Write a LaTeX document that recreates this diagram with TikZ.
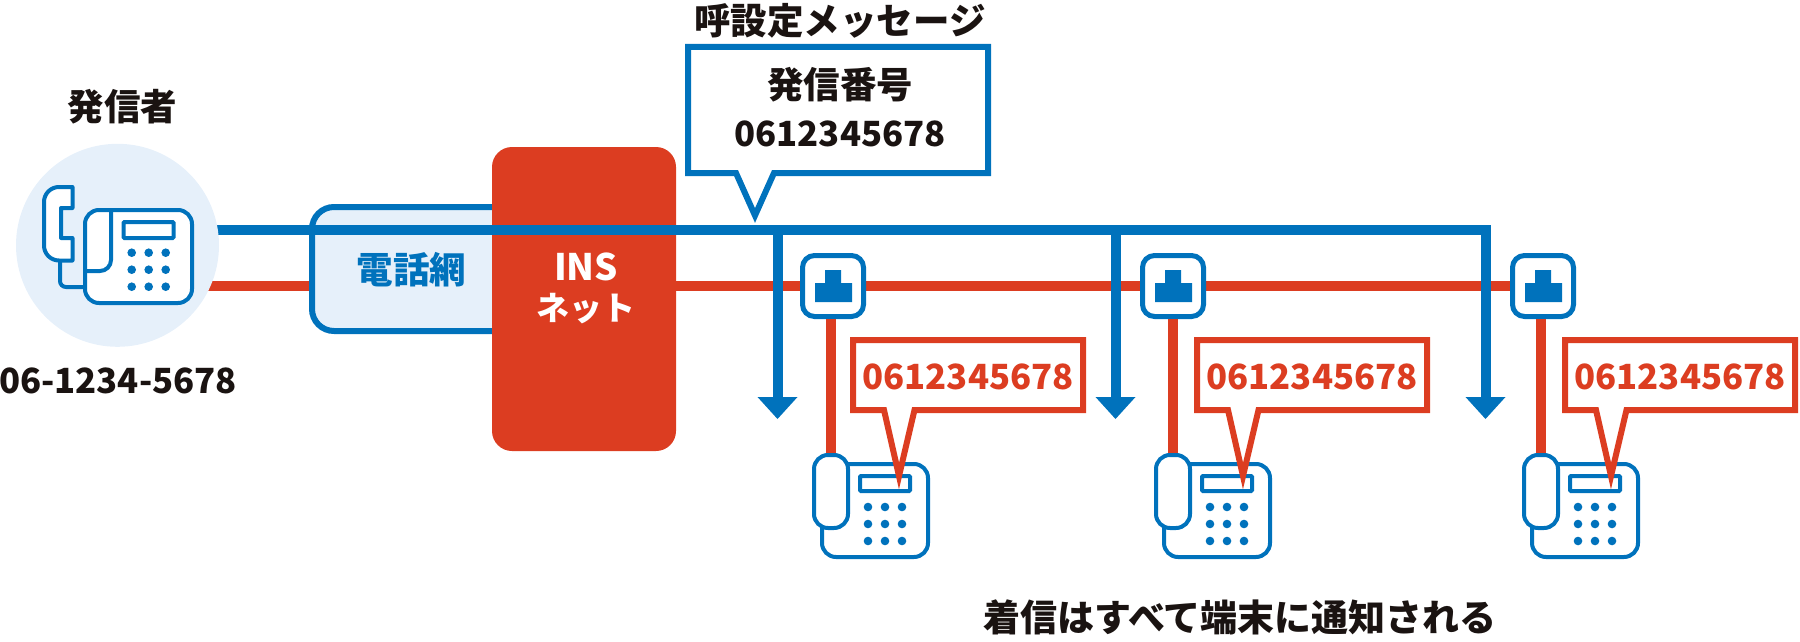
\documentclass[tikz,border=0pt]{standalone}
\usepackage{fontspec}
\usetikzlibrary{arrows.meta}
\setmainfont{Noto Sans CJK JP}
\definecolor{cblue}{HTML}{0072BC}
\definecolor{cred}{HTML}{DC3D21}
\definecolor{cpale}{HTML}{E6F0FA}
\definecolor{cink}{HTML}{1A1311}
\tikzset{
  wire/.style={line width=10pt},
  bluewire/.style={wire,draw=cblue,line join=miter},
  redwire/.style={wire,draw=cred},
  branch/.style={bluewire,-{Triangle[width=40pt,length=22pt,line width=0pt]}},
  jtext/.style={font=\bfseries\fontsize{36.5}{36.5}\selectfont,inner sep=0pt,outer sep=0pt,text=cink,anchor=center},
  numtext/.style={jtext,font=\bfseries\fontsize{34.7}{35}\selectfont},
  redtext/.style={numtext,text=cred},
  jackbox/.style={draw=cblue,line width=5pt,fill=white,rounded corners=12pt,minimum width=61pt,minimum height=61pt,inner sep=0pt,outer sep=0pt,anchor=center},
  phoneline/.style={draw=cblue,line width=4pt},
  balloon/.style={line width=6pt,fill=white,miter limit=20,line join=miter},
  callee/.pic={
    \draw[phoneline,fill=white,rounded corners=14pt] (822,464) rectangle (928,557);
    \draw[phoneline,rounded corners=1pt] (860,476) rectangle (910,491);
    \foreach \dx in {868,885,902}\foreach \dy in {507,524,541}
      \fill[cblue] (\dx,\dy) circle[radius=4.3pt];
    \draw[phoneline,fill=white,rounded corners=14pt] (814,455) rectangle (848,528);
  }
}
\begin{document}
\begin{tikzpicture}[x=1pt,y=-1pt]
\useasboundingbox (0,0) rectangle (1800,642);
% anchors of the wires
\coordinate (bstart) at (118,230);
\coordinate (rstart) at (118,286);
\coordinate (rend) at (1543,286);
\coordinate (bcorner) at (1485.5,230);
\coordinate (b1) at (777.5,230);
\coordinate (b2) at (1115.5,230);
\coordinate (e1) at (777.5,419);
\coordinate (e2) at (1115.5,419);
\coordinate (e3) at (1485.5,419);
\coordinate (top1) at (831,456);
\coordinate (top2) at (1173,456);
\coordinate (top3) at (1541,456);
% red line
\draw[redwire] (rstart) -- (rend);
% network
\node[draw=cblue,line width=6pt,fill=cpale,rounded corners=22pt,minimum width=230pt,minimum height=124pt,inner sep=0pt,outer sep=0pt,anchor=center] (net) at (427,269) {};
\node[jtext,text=cblue] (netlabel) at (411.5,270) {電話網};
% INS box
\node[fill=cred,rounded corners=20pt,minimum width=184pt,minimum height=304pt,inner sep=0pt,outer sep=0pt,anchor=center] (ins) at (584,299) {};
\node[jtext,text=white] (ins1) at (586,267) {INS};
\node[jtext,text=white,font=\bfseries\fontsize{33}{33}\selectfont] (ins2) at (585.5,309) {ネット};
% blue lines
\draw[bluewire,-{Triangle[width=40pt,length=22pt,line width=0pt]}] (bstart) -- (bcorner) -- (e3);
\draw[branch] (b1) -- (e1);
\draw[branch] (b2) -- (e2);
% jacks and red drops
\foreach \i/\x/\c in {1/800/833,2/1140/1173,3/1510/1543}{
  \node[jackbox] (jack\i) at (\c,286) {};
  \begin{scope}[shift={(\x,0)}]
    \fill[cblue] (25,270) rectangle (41,283) (15,283) rectangle (52,302);
  \end{scope}
  \draw[redwire,shorten <=2.5pt] (jack\i.south -| top\i) -- (top\i);
}
% caller
\node[circle,fill=cpale,minimum size=203pt,inner sep=0pt,outer sep=0pt,anchor=center] (caller) at (117.5,245.3) {};
\draw[phoneline,fill=white,rounded corners=14pt] (85,210) rectangle (192,303);
\draw[phoneline,rounded corners=1pt] (123.5,222) rectangle (173.5,238);
\foreach \dx in {131.7,148.7,165.7}\foreach \dy in {252.7,269.7,286.7}
  \fill[cblue] (\dx,\dy) circle[radius=4.3pt];
\draw[phoneline] (111,210) -- (111,260) arc[start angle=0,end angle=90,radius=11pt,y radius=-11pt] -- (85,271);
\draw[phoneline] (60,261) -- (60,281) arc[start angle=180,end angle=90,radius=6pt,y radius=-6pt] -- (85,287);
\draw[phoneline,fill=white,line join=round] (72.5,187) -- (72.5,208) -- (61,208) -- (61,238) -- (72.5,238) -- (72.5,260.5) -- (59,260.5)
  arc[start angle=90,end angle=180,radius=15pt,y radius=-15pt] -- (44,202)
  arc[start angle=180,end angle=270,radius=15pt,y radius=-15pt] -- cycle;
% callee phones
\pic at (0,0) {callee};
\pic at (342,0) {callee};
\pic at (710,0) {callee};
% message balloon
\draw[cblue,balloon] (688,47) -- (988,47) -- (988,173) -- (774,173) -- (755,215.5) -- (736,173) -- (688,173) -- cycle;
% number balloons
\foreach \dx in {0,344,712}{
  \begin{scope}[shift={(\dx,0)}]
    \draw[cred,balloon] (853,340) -- (1083,340) -- (1083,410) -- (914.5,410) -- (899,476) -- (884,410) -- (853,410) -- cycle;
    \node[redtext] at (968,377) {0612345678};
  \end{scope}
}
% labels
\node[jtext] (lcaller) at (122.5,107) {発信者};
\node[numtext] (lnum) at (118,380.5) {06-1234-5678};
\node[jtext] (lmsg) at (840,20.5) {呼設定メッセージ};
\node[jtext] (lno) at (840,85) {発信番号};
\node[numtext] (lcall) at (840,134) {0612345678};
\node[jtext,font=\bfseries\fontsize{37}{37}\selectfont] (lall) at (1240,617) {着信はすべて端末に通知される};
\end{tikzpicture}
\end{document}
